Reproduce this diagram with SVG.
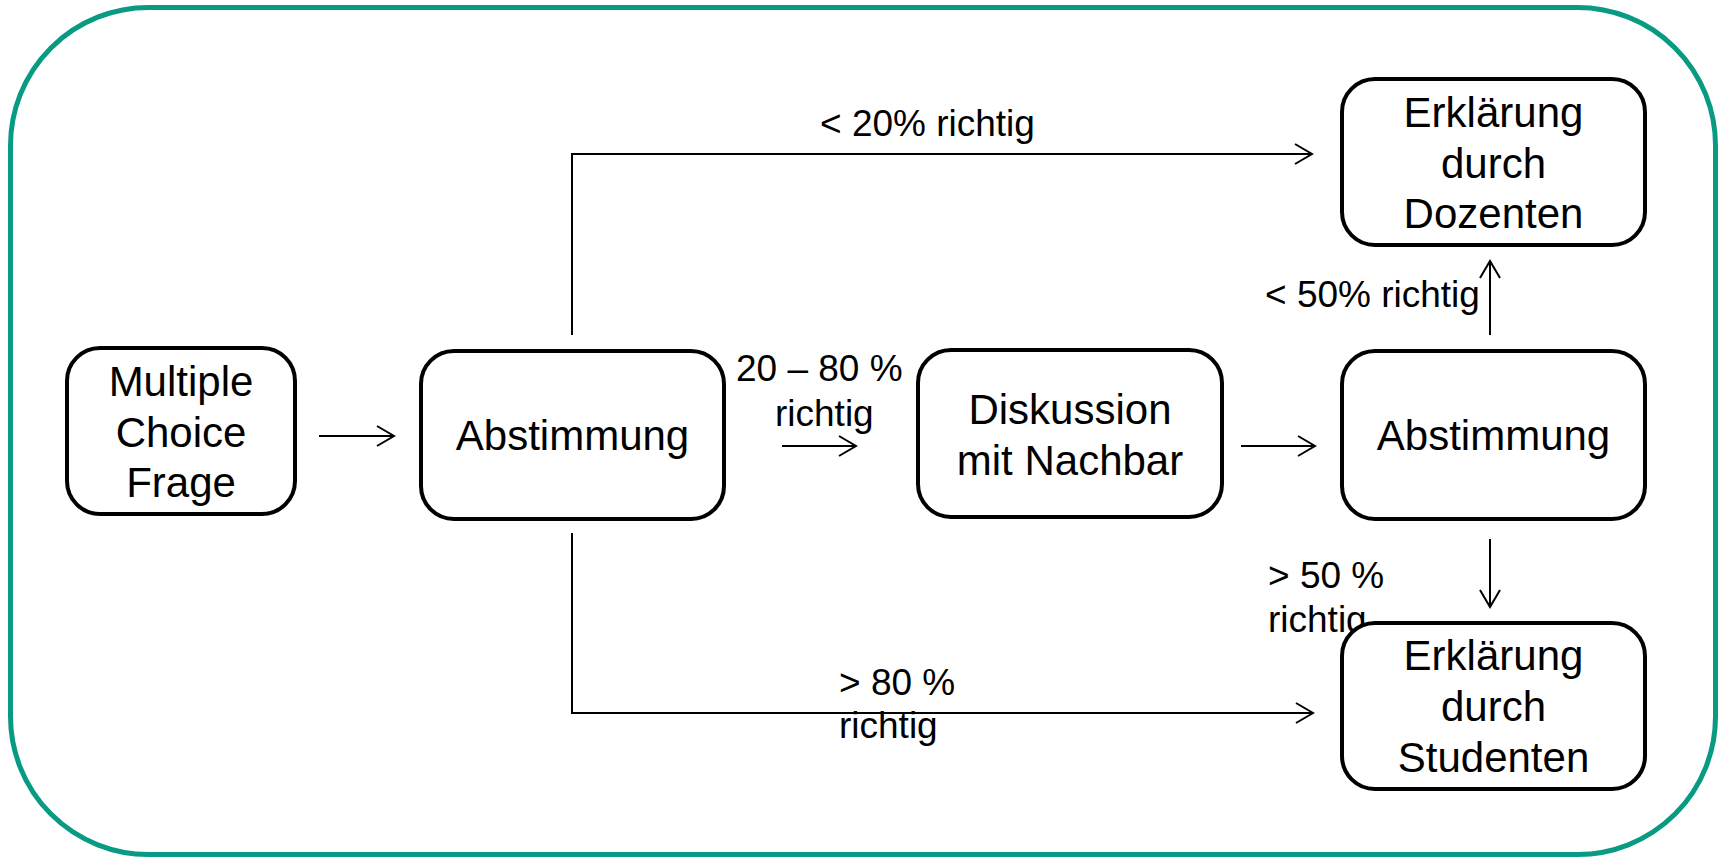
<svg xmlns="http://www.w3.org/2000/svg" width="1721" height="857" viewBox="0 0 1721 857">
<defs>
<style>
.frame{fill:#ffffff;stroke:#089A83;stroke-width:5}
.node rect{fill:#ffffff;stroke:#000000;stroke-width:4}
.node text{font-family:"Liberation Sans",Arial,sans-serif;font-size:42px;fill:#000000;text-anchor:middle}
.lbl{font-family:"Liberation Sans",Arial,sans-serif;font-size:37px;fill:#000000}
.edge{fill:none;stroke:#000000;stroke-width:2}
</style>
<marker id="arr" viewBox="0 0 20 22" refX="18" refY="11" markerWidth="20" markerHeight="22" markerUnits="userSpaceOnUse" orient="auto" overflow="visible">
<path d="M1,1 L18,11 L1,21" fill="none" stroke="#000000" stroke-width="2"/>
</marker>
</defs>
<rect class="frame" x="10.5" y="7.5" width="1705" height="847" rx="138" ry="138"/>
<g id="connectors">
<path class="edge" d="M319,436 H394" marker-end="url(#arr)"/>
<path class="edge" d="M782,446 H856" marker-end="url(#arr)"/>
<path class="edge" d="M1241,446 H1315" marker-end="url(#arr)"/>
<path class="edge" d="M572,335 V154 H1312" marker-end="url(#arr)"/>
<path class="edge" d="M572,533 V713 H1313" marker-end="url(#arr)"/>
<path class="edge" d="M1490,335 V261" marker-end="url(#arr)"/>
<path class="edge" d="M1490,539 V607" marker-end="url(#arr)"/>
</g>
<g id="labels">
<text class="lbl" x="820" y="136">&lt; 20% richtig</text>
<text class="lbl" x="736" y="381">20 – 80 %</text>
<text class="lbl" x="775" y="426">richtig</text>
<text class="lbl" x="1265" y="307">&lt; 50% richtig</text>
<text class="lbl" x="1268" y="588">&gt; 50 %</text>
<text class="lbl" x="1268" y="632">richtig</text>
<text class="lbl" x="839" y="695">&gt; 80 %</text>
<text class="lbl" x="839" y="738">richtig</text>
</g>
<g id="n1" class="node">
<rect x="67" y="348" width="228" height="166" rx="33"/>
<text x="181" y="396">Multiple</text>
<text x="181" y="446.5">Choice</text>
<text x="181" y="497">Frage</text>
</g>
<g id="n2" class="node">
<rect x="421" y="351" width="303" height="168" rx="33"/>
<text x="572.5" y="450">Abstimmung</text>
</g>
<g id="n3" class="node">
<rect x="918" y="350" width="304" height="167" rx="33"/>
<text x="1070" y="424">Diskussion</text>
<text x="1070" y="475">mit Nachbar</text>
</g>
<g id="n4" class="node">
<rect x="1342" y="351" width="303" height="168" rx="33"/>
<text x="1493.5" y="450">Abstimmung</text>
</g>
<g id="n5" class="node">
<rect x="1342" y="79" width="303" height="166" rx="33"/>
<text x="1493.5" y="127">Erklärung</text>
<text x="1493.5" y="177.5">durch</text>
<text x="1493.5" y="228">Dozenten</text>
</g>
<g id="n6" class="node">
<rect x="1342" y="623" width="303" height="166" rx="33"/>
<text x="1493.5" y="670">Erklärung</text>
<text x="1493.5" y="721">durch</text>
<text x="1493.5" y="772">Studenten</text>
</g>
</svg>
